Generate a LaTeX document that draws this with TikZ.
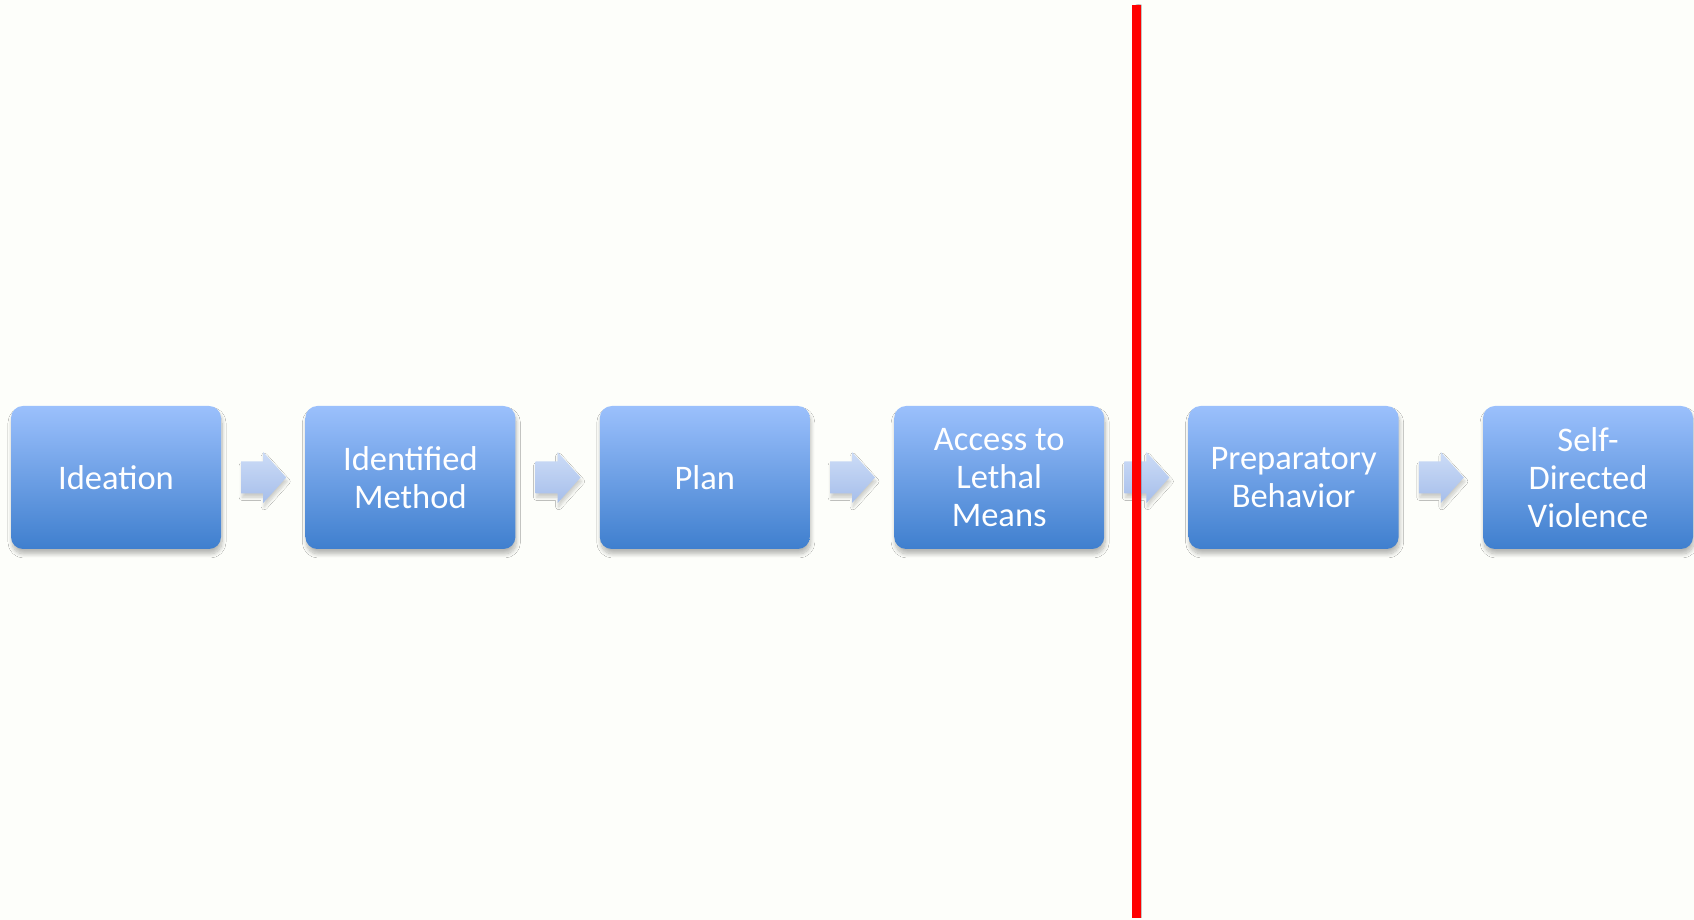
\documentclass[tikz,border=0pt]{standalone}
\usepackage{fontspec}
\setmainfont{Carlito}
\usepackage{tikz}
\usetikzlibrary{positioning, calc, shadows.blur}
\definecolor{boxtop}{RGB}{155, 192, 252}
\definecolor{boxbottom}{RGB}{63, 127, 206}
\definecolor{arrowtop}{RGB}{204, 220, 247}
\definecolor{arrowbottom}{RGB}{166, 190, 234}
\definecolor{paper}{RGB}{253, 254, 250}

% block arrow halfway between two boxes
\newcommand{\flowarrow}[2]{%
    \path[flowshape] ($(#1.east)!0.5!(#2.west)$) ++(-22,-16) -- ++(22,0) -- ++(0,-9.5)
        -- ++(23,25.5) -- ++(-23,25.5) -- ++(0,-9.5) -- ++(-22,0) -- cycle;}

\begin{document}
\begin{tikzpicture}[
    x=1pt, y=1pt,
    node distance=84pt,
    stage/.style={rounded corners=12pt, minimum width=210pt, minimum height=143pt,
                  top color=boxtop, bottom color=boxbottom, text=white,
                  align=center, font=\fontsize{34.5}{38}\selectfont,
                  blur shadow={shadow xshift=1pt, shadow yshift=-5pt,
                               shadow blur radius=4pt, shadow blur steps=10,
                               shadow opacity=28}},
    flowshape/.style={top color=arrowtop, bottom color=arrowbottom,
                  blur shadow={shadow xshift=1pt, shadow yshift=-4pt,
                               shadow blur radius=3pt, shadow blur steps=8,
                               shadow opacity=20}}
]
    \fill[paper] (0,0) rectangle (1694,920);
    \useasboundingbox (0,0) rectangle (1694,920);

    \node[stage] (ideation) at (116,442.5) {Ideation};
    \node[stage, right=of ideation] (method) {Identified\\Method};
    \node[stage, right=of method] (plan) {Plan};
    \node[stage, right=of plan] (access) {Access to\\Lethal\\Means};
    \node[stage, right=of access] (prep) {Preparatory\\Behavior};
    \node[stage, right=of prep] (violence) {Self-\\Directed\\Violence};

    \flowarrow{ideation}{method}
    \flowarrow{method}{plan}
    \flowarrow{plan}{access}
    \flowarrow{access}{prep}
    \flowarrow{prep}{violence}

    % dividing line
    \coordinate (cut top) at (1136.5,915);
    \coordinate (cut bottom) at (1136.5,2);
    \draw[red, line width=9pt, blur shadow={shadow xshift=2pt, shadow yshift=0pt,
          shadow blur radius=3pt, shadow blur steps=4, shadow opacity=15}]
        (cut top) -- (cut bottom);
\end{tikzpicture}
\end{document}
